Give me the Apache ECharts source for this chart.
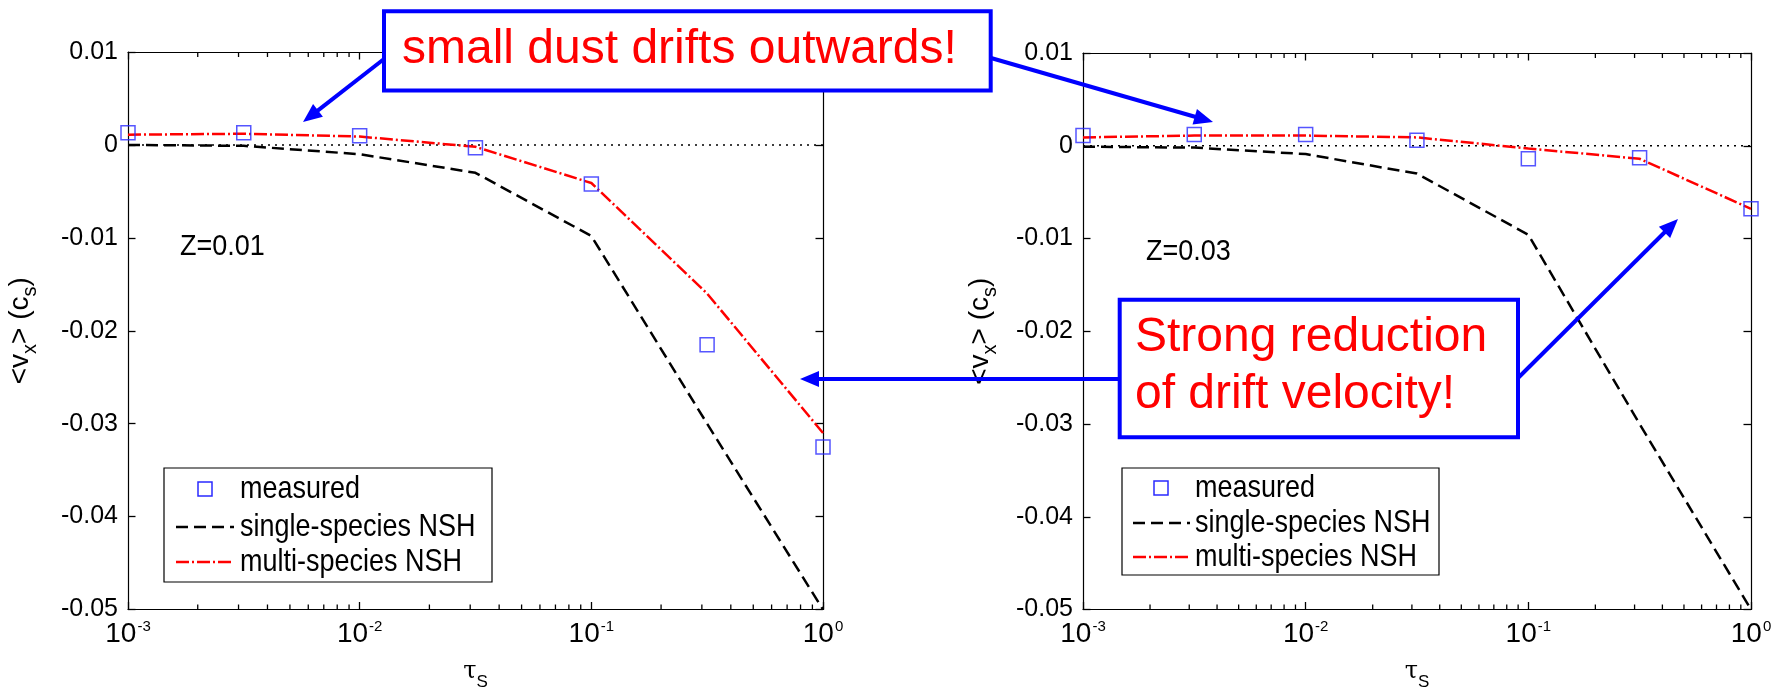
<!DOCTYPE html>
<html>
<head>
<meta charset="utf-8">
<title>Radial drift velocity vs stopping time</title>
<script src="https://cdn.jsdelivr.net/npm/echarts@6.0.0/dist/echarts.min.js"></script>
<style>
  html, body { margin: 0; padding: 0; background: #ffffff; }
  #chart { width: 1781px; height: 696px; }
</style>
</head>
<body>
<div id="chart"></div>
<script>
// ---- data -------------------------------------------------------------
// stopping times (half-decade steps)
const tau = [0.001, 0.00316, 0.01, 0.0316, 0.1, 0.316, 1];

// Z = 0.01 panel
const measuredZ001  = [0.0013, 0.0013, 0.0010, -0.0003, -0.0042, -0.0215, -0.0325];
const singleNshZ001 = [0.0000, -0.0001, -0.0010, -0.0030, -0.0098, -0.0300, -0.0500];
const multiNshZ001  = [0.0011, 0.0012, 0.0009, -0.0002, -0.0041, -0.0160, -0.0310];

// Z = 0.03 panel
const measuredZ003  = [0.0011, 0.0012, 0.0012, 0.0006, -0.0014, -0.0013, -0.0068];
const singleNshZ003 = [-0.0001, -0.0002, -0.0009, -0.0030, -0.0096, -0.0300, -0.0500];
const multiNshZ003  = [0.0009, 0.0011, 0.0011, 0.0009, -0.0003, -0.0014, -0.0068];

const panelLabels = ['Z=0.01', 'Z=0.03'];
const legendNames = ['measured', 'single-species NSH', 'multi-species NSH'];

// axis ticks
const xDecadeExponents = [-3, -2, -1, 0];
const minorMultipliers = [2, 3, 4, 5, 6, 7, 8, 9];
const yMin = -0.05, yMax = 0.01, yStep = 0.01;

// callout texts
const calloutTop = 'small dust drifts outwards!';
const calloutMid = ['Strong reduction', 'of drift velocity!'];

// ---- styling ----------------------------------------------------------
const FONT = '"Liberation Sans", Arial, Helvetica, sans-serif';
const SERIF = '"DejaVu Serif", "Liberation Serif", serif';
const BLUE = '#0000ff';
const MARKER_BLUE = '#2a2aff';
const RED = '#ff0000';
const DASH = [12, 6];
const DASH_DOT = [13, 3, 2, 3];
const DOTS = [2, 5];
const MAJOR_TICK = 7.5;
const MINOR_TICK = 5;

const panels = [
  { grid: { left: 128, top: 52, width: 695, height: 561 }, yNameGap: 84,
    measured: measuredZ001, single: singleNshZ001, multi: multiNshZ001,
    label: { x: 180, y: 247 },
    legend: { x: 164, y: 468, w: 328, h: 114, lineX0: 176, lineX1: 234, markX: 205, textX: 240, rows: [489, 527, 562] } },
  { grid: { left: 1083, top: 53, width: 668, height: 563 }, yNameGap: 79,
    measured: measuredZ003, single: singleNshZ003, multi: multiNshZ003,
    label: { x: 1146, y: 252 },
    legend: { x: 1122, y: 468, w: 317, h: 107, lineX0: 1133, lineX1: 1190, markX: 1161, textX: 1195, rows: [488, 523, 557] } }
];

const pairs = values => tau.map((t, k) => [t, values[k]]);

// minor tick positions: 2..9 within each decade
const minorTickTau = [];
xDecadeExponents.slice(0, -1).forEach(e => {
  minorMultipliers.forEach(m => minorTickTau.push(m * Math.pow(10, e)));
});

const xMin = Math.pow(10, xDecadeExponents[0]);
const xMax = Math.pow(10, xDecadeExponents[xDecadeExponents.length - 1]);

function xAxesFor(i) {
  const major = (pos, withLabels) => {
    const ax = {
      type: 'log', logBase: 10, gridIndex: i, min: xMin, max: xMax, position: pos,
      axisLine: { show: true, onZero: false, lineStyle: { color: '#000', width: 1.2 } },
      axisTick: { show: true, inside: true, length: MAJOR_TICK, lineStyle: { color: '#000', width: 1.3 } },
      splitLine: { show: false },
      axisLabel: { show: false }
    };
    if (withLabels) {
      ax.axisLabel = {
        show: true, margin: 10, color: '#000',
        formatter: v => '{b|10}{s|' + Math.round(Math.log10(v)) + '}',
        rich: {
          b: { fontSize: 28, fontFamily: FONT, color: '#000' },
          s: { fontSize: 15, fontFamily: FONT, color: '#000', padding: [0, 0, 14, 1] }
        }
      };
      ax.name = '{t|\u03c4}{s|S}';
      ax.nameLocation = 'middle';
      ax.nameGap = 50;
      ax.nameTextStyle = {
        rich: {
          t: { fontSize: 24, fontFamily: SERIF, color: '#000', padding: [0, 0, 10, 0] },
          s: { fontSize: 17, fontFamily: FONT, color: '#000', padding: [12, 0, 0, 0] }
        }
      };
    }
    return ax;
  };
  return [major('bottom', true), major('top', false)];
}

function yAxesFor(i, nameGap) {
  const base = {
    type: 'value', gridIndex: i, min: yMin, max: yMax, interval: yStep,
    splitLine: { show: false },
    axisLine: { show: true, onZero: false, lineStyle: { color: '#000', width: 1.2 } },
    axisTick: { show: true, inside: true, length: MAJOR_TICK, lineStyle: { color: '#000', width: 1.3 } }
  };
  return [
    Object.assign({}, base, {
      position: 'left',
      axisLabel: {
        show: true, margin: 10, fontSize: 25, fontFamily: FONT, color: '#000',
        formatter: v => (Math.abs(v) < 1e-9 ? '0' : v.toFixed(2))
      },
      name: '{a|<v}{b|x}{a|> (c}{b|s}{a|)}',
      nameLocation: 'middle', nameRotate: 90, nameGap: nameGap,
      nameTextStyle: {
        rich: {
          a: { fontSize: 28, fontFamily: FONT, color: '#000', padding: [0, 0, 10, 0] },
          b: { fontSize: 20, fontFamily: FONT, color: '#000', padding: [10, 0, 0, 0] }
        }
      }
    }),
    Object.assign({}, base, { position: 'right', axisLabel: { show: false } })
  ];
}

// short inward minor ticks on the bottom and top edges, placed through the log axis
function minorTickSeries(xi, yi) {
  return {
    type: 'custom', xAxisIndex: xi, yAxisIndex: yi, silent: true, z: 10, clip: false,
    data: minorTickTau.map(t => [t, yMin]),
    encode: { x: 0, y: 1 },
    renderItem: function (params, api) {
      const t = api.value(0);
      const b = api.coord([t, yMin]);
      const top = api.coord([t, yMax]);
      return {
        type: 'group',
        children: [
          { type: 'line', shape: { x1: b[0], y1: b[1], x2: b[0], y2: b[1] - MINOR_TICK },
            style: { stroke: '#000', lineWidth: 1.3 } },
          { type: 'line', shape: { x1: top[0], y1: top[1], x2: top[0], y2: top[1] + MINOR_TICK },
            style: { stroke: '#000', lineWidth: 1.3 } }
        ]
      };
    }
  };
}

const grids = [], xAxes = [], yAxes = [], series = [], graphics = [];

panels.forEach((p, i) => {
  grids.push(Object.assign({ show: false }, p.grid));
  xAxes.push(...xAxesFor(i));
  yAxes.push(...yAxesFor(i, p.yNameGap));
  const xi = 2 * i, yi = 2 * i;
  series.push(
    minorTickSeries(xi, yi),
    { type: 'line', name: 'zero', xAxisIndex: xi, yAxisIndex: yi, silent: true, z: 1,
      data: [[tau[0], 0], [tau[tau.length - 1], 0]], symbol: 'none',
      lineStyle: { color: '#000', width: 1.5, type: DOTS } },
    { type: 'line', name: legendNames[1], xAxisIndex: xi, yAxisIndex: yi, z: 2,
      data: pairs(p.single), symbol: 'none',
      lineStyle: { color: '#000', width: 2.5, type: DASH } },
    { type: 'line', name: legendNames[2], xAxisIndex: xi, yAxisIndex: yi, z: 3,
      data: pairs(p.multi), symbol: 'none',
      lineStyle: { color: RED, width: 2.5, type: DASH_DOT } },
    { type: 'scatter', name: legendNames[0], xAxisIndex: xi, yAxisIndex: yi, z: 5,
      data: pairs(p.measured), symbol: 'rect', symbolSize: 14,
      itemStyle: { color: 'rgba(0,0,0,0)', borderColor: MARKER_BLUE, borderWidth: 1.5 } }
  );

  // panel label
  graphics.push({
    type: 'text', x: p.label.x, y: p.label.y, scaleY: 1.12, z: 40,
    style: { text: panelLabels[i], fill: '#000', font: '27px ' + FONT, align: 'left', verticalAlign: 'middle' }
  });

  // legend box
  const L = p.legend;
  graphics.push({
    type: 'rect', z: 40, shape: { x: L.x, y: L.y, width: L.w, height: L.h },
    style: { fill: '#fff', stroke: '#000', lineWidth: 1.2 }
  });
  graphics.push({
    type: 'rect', z: 41, shape: { x: L.markX - 7, y: L.rows[0] - 7, width: 14, height: 14 },
    style: { fill: 'none', stroke: MARKER_BLUE, lineWidth: 1.5 }
  });
  graphics.push({
    type: 'line', z: 41, shape: { x1: L.lineX0, y1: L.rows[1], x2: L.lineX1, y2: L.rows[1] },
    style: { stroke: '#000', lineWidth: 2.5, lineDash: DASH }
  });
  graphics.push({
    type: 'line', z: 41, shape: { x1: L.lineX0, y1: L.rows[2], x2: L.lineX1, y2: L.rows[2] },
    style: { stroke: RED, lineWidth: 2.5, lineDash: DASH_DOT }
  });
  legendNames.forEach((name, k) => {
    graphics.push({
      type: 'text', x: L.textX, y: L.rows[k], scaleY: 1.15, z: 41,
      style: { text: name, fill: '#000', font: '27px ' + FONT, align: 'left', verticalAlign: 'middle' }
    });
  });
});

// ---- callouts ---------------------------------------------------------
function arrow(x1, y1, x2, y2) {
  const HL = 19, HW = 8;
  const dx = x2 - x1, dy = y2 - y1, len = Math.hypot(dx, dy);
  const ux = dx / len, uy = dy / len;
  const bx = x2 - ux * HL, by = y2 - uy * HL;
  return [
    { type: 'line', z: 60, shape: { x1: x1, y1: y1, x2: bx + ux * 2, y2: by + uy * 2 },
      style: { stroke: BLUE, lineWidth: 4 } },
    { type: 'polygon', z: 61,
      shape: { points: [[x2, y2], [bx - uy * HW, by + ux * HW], [bx + uy * HW, by - ux * HW]] },
      style: { fill: BLUE } }
  ];
}

graphics.push(...arrow(384, 59, 303, 122));
graphics.push(...arrow(991, 58, 1213, 122));
graphics.push(...arrow(1120, 379, 800, 379));
graphics.push(...arrow(1518, 378, 1678, 219));

graphics.push({
  type: 'rect', z: 70, shape: { x: 384, y: 11.3, width: 606.7, height: 79.2 },
  style: { fill: '#fff', stroke: BLUE, lineWidth: 4 }
});
graphics.push({
  type: 'text', z: 71, x: 402, y: 50,
  style: { text: calloutTop, fill: RED, font: '48px ' + FONT, align: 'left', verticalAlign: 'middle' }
});
graphics.push({
  type: 'rect', z: 70, shape: { x: 1119.7, y: 299.7, width: 398.3, height: 137.6 },
  style: { fill: '#fff', stroke: BLUE, lineWidth: 4 }
});
calloutMid.forEach((line, k) => {
  graphics.push({
    type: 'text', z: 71, x: 1135, y: 338 + k * 57,
    style: { text: line, fill: RED, font: '48px ' + FONT, align: 'left', verticalAlign: 'middle' }
  });
});

const option = {
  backgroundColor: '#ffffff',
  animation: false,
  textStyle: { fontFamily: FONT },
  grid: grids,
  xAxis: xAxes,
  yAxis: yAxes,
  series: series,
  graphic: { elements: graphics }
};

const chart = echarts.init(document.getElementById('chart'), null, { renderer: 'canvas', width: 1781, height: 696 });
chart.setOption(option);
</script>
</body>
</html>
